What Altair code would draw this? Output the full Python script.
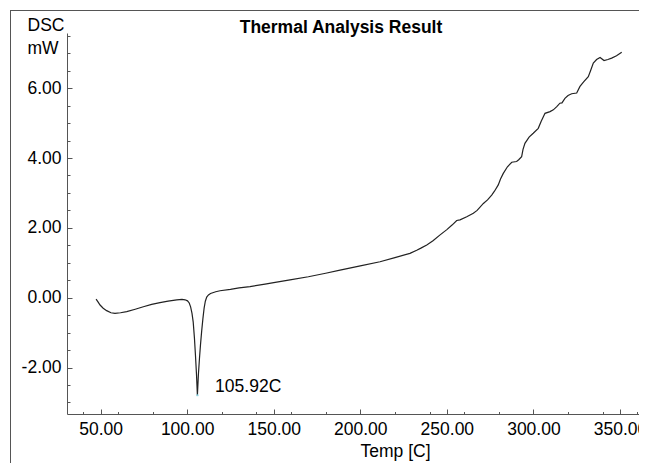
import altair as alt
import pandas as pd

# ---- data ----
temp = [47.4, 48.5, 49.7, 51.5, 53.5, 56.0, 58.3, 61.5, 65.1, 70.0, 74.7, 79.5, 84.3, 89.0,
        94.0, 97.0, 98.8, 100.2, 101.2, 102.0, 102.8, 103.5, 104.2, 104.8, 105.4,
        105.92, 106.5, 107.1, 107.7, 108.4, 109.1, 109.8, 110.5, 111.3, 112.3, 113.5,
        116.5, 119.0, 125.0, 130.0, 136.3, 145.0, 150.0, 159.4, 170.0, 180.0, 188.3, 200.0,
        211.4, 220.0, 228.7, 232.6, 235.0, 238.4, 242.0, 246.1, 250.0, 253.0, 255.7, 257.6,
        261.5, 265.3, 267.5, 271.1, 273.5, 275.9, 277.5, 279.7, 281.0, 282.6, 285.0, 287.5,
        290.3, 291.5, 293.2, 294.0, 295.1, 297.5, 299.9, 302.8, 304.5, 306.7, 309.6, 311.5,
        313.5, 315.3, 316.5, 318.2, 320.0, 322.1, 325.0, 326.9, 329.0, 331.7, 333.0, 334.6,
        336.5, 338.5, 340.8, 343.0, 345.2, 348.0, 351.0]
dsc = [-0.04, -0.12, -0.21, -0.30, -0.37, -0.43, -0.45, -0.43, -0.40, -0.33, -0.26, -0.19, -0.14, -0.10,
       -0.06, -0.05, -0.06, -0.09, -0.15, -0.26, -0.45, -0.70, -1.15, -1.65, -2.20,
       -2.79, -2.20, -1.75, -1.35, -0.95, -0.60, -0.30, -0.10, 0.02, 0.08, 0.12,
       0.17, 0.20, 0.24, 0.28, 0.32, 0.39, 0.43, 0.51, 0.60, 0.70, 0.79, 0.91,
       1.03, 1.15, 1.27, 1.36, 1.42, 1.51, 1.63, 1.80, 1.95, 2.08, 2.21, 2.23,
       2.32, 2.42, 2.50, 2.70, 2.80, 2.94, 3.05, 3.23, 3.40, 3.56, 3.75, 3.88,
       3.90, 3.95, 4.04, 4.25, 4.42, 4.60, 4.71, 4.85, 5.05, 5.28, 5.33, 5.38,
       5.47, 5.57, 5.58, 5.71, 5.79, 5.84, 5.86, 6.05, 6.18, 6.33, 6.50, 6.72,
       6.82, 6.88, 6.79, 6.82, 6.86, 6.93, 7.03]

peak_temp = [105.92]
peak_dsc = [-2.79]
peak_label = ["105.92C"]

x_major = [50, 100, 150, 200, 250, 300, 350]
x_minor = [40, 60, 80, 100, 120, 140, 160, 180, 200, 220, 240, 260, 280, 300, 320, 340, 360]
y_major = [-2, 0, 2, 4, 6]
y_minor = [-3.0, -2.5, -2.0, -1.5, -1.0, -0.5, 0.0, 0.5, 1.0, 1.5, 2.0, 2.5, 3.0, 3.5,
           4.0, 4.5, 5.0, 5.5, 6.0, 6.5, 7.0, 7.5]

title_text = ["Thermal Analysis Result"]
x_title = "Temp [C]"
y_title = ["DSC", "mW"]

# ---- chart ----
W, H = 572, 381
FONT = "Liberation Sans"
FS = 17.5
AX = "#555555"
LABEL_EXPR = "(datum.value < 0 ? '-' : '') + format(abs(datum.value), '.2f')"

df = pd.DataFrame({"temp": temp, "dsc": dsc})
peak_df = pd.DataFrame({"temp": peak_temp, "dsc": peak_dsc, "label": peak_label})
title_df = pd.DataFrame({"t": title_text})

xs = alt.Scale(domain=[30.6, 30.6 + W / 1.7313], nice=False, zero=False)
ys = alt.Scale(domain=[-3.33, 7.58], nice=False, zero=False)

base = alt.Chart(df)

line = base.mark_line(color="#222222", strokeWidth=1.2).encode(
    x=alt.X("temp:Q", scale=xs, axis=alt.Axis(
        orient="bottom", values=x_major, format=".2f", ticks=False, grid=False,
        domainColor=AX, domainWidth=1, labelFont=FONT, labelFontSize=FS, labelColor="black",
        labelBaseline="alphabetic", labelPadding=20.5, labelFlush=False, labelOverlap=False,
        title=x_title, titleFont=FONT, titleFontSize=FS, titleFontWeight="normal",
        titleColor="black", titleX=328, titleY=42.5, titleAlign="center",
        titleBaseline="alphabetic")),
    y=alt.Y("dsc:Q", scale=ys, axis=alt.Axis(
        orient="left", values=y_major, labelExpr=LABEL_EXPR, ticks=False, grid=False,
        domainColor=AX, domainWidth=1, labelFont=FONT, labelFontSize=FS, labelColor="black",
        labelPadding=6, labelFlush=False, labelOverlap=False,
        title=y_title, titleFont=FONT, titleFontSize=FS, titleFontWeight="normal",
        titleColor="black", titleAngle=0, titleX=-40, titleY=-3, titleAlign="left",
        titleBaseline="alphabetic", titleLineHeight=23)),
)

major_ticks = base.mark_point(opacity=0).encode(
    x=alt.X("temp:Q", scale=xs, axis=alt.Axis(
        orient="top", offset=-H, values=x_major, labels=False, domain=False, grid=False,
        ticks=True, tickSize=5, tickColor=AX, title=None)),
    y=alt.Y("dsc:Q", scale=ys, axis=alt.Axis(
        orient="right", offset=-W, values=y_major, labels=False, domain=False, grid=False,
        ticks=True, tickSize=5, tickColor=AX, title=None)),
)

minor_ticks = base.mark_point(opacity=0).encode(
    x=alt.X("temp:Q", scale=xs, axis=alt.Axis(
        orient="top", offset=-H, values=x_minor, labels=False, domain=False, grid=False,
        ticks=True, tickSize=2.5, tickColor=AX, title=None)),
    y=alt.Y("dsc:Q", scale=ys, axis=alt.Axis(
        orient="right", offset=-W, values=y_minor, labels=False, domain=False, grid=False,
        ticks=True, tickSize=3, tickColor=AX, title=None)),
)

# outer frame of the figure (top and left edges, drawn as thin filled bars)
frame_top = alt.Chart(title_df).mark_rect(color="#555555", strokeWidth=0).encode(
    x=alt.value(-57), x2=alt.value(W), y=alt.value(-23), y2=alt.value(-22)
)
frame_left = alt.Chart(title_df).mark_rect(color="#555555", strokeWidth=0).encode(
    x=alt.value(-57), x2=alt.value(-56), y=alt.value(-23), y2=alt.value(H + 60)
)

title = alt.Chart(title_df).mark_text(
    align="center", baseline="alphabetic", font=FONT, fontSize=FS, fontWeight="bold",
    color="black"
).encode(x=alt.value(274), y=alt.value(-0.5), text="t:N")

tip = alt.Chart(peak_df).mark_point(filled=True, size=6, color="#7fd0e0").encode(
    x=alt.X("temp:Q", scale=xs, axis=None),
    y=alt.Y("dsc:Q", scale=ys, axis=None),
)

label = alt.Chart(peak_df).mark_text(
    align="left", baseline="alphabetic", dx=17.7, dy=-2.7, font=FONT, fontSize=FS, color="black"
).encode(
    x=alt.X("temp:Q", scale=xs, axis=None),
    y=alt.Y("dsc:Q", scale=ys, axis=None),
    text="label:N",
)

chart = alt.layer(frame_top, frame_left, line, major_ticks, minor_ticks, tip, label, title
).resolve_axis(
    x="independent", y="independent"
).properties(
    width=W, height=H,
    autosize=alt.AutoSizeParams(type="none"),
    padding={"left": 59, "top": 25, "right": 0, "bottom": 49},
).configure(font=FONT).configure_view(strokeWidth=0)

chart.save("out.html", embed_options={"renderer": "svg", "actions": False})
